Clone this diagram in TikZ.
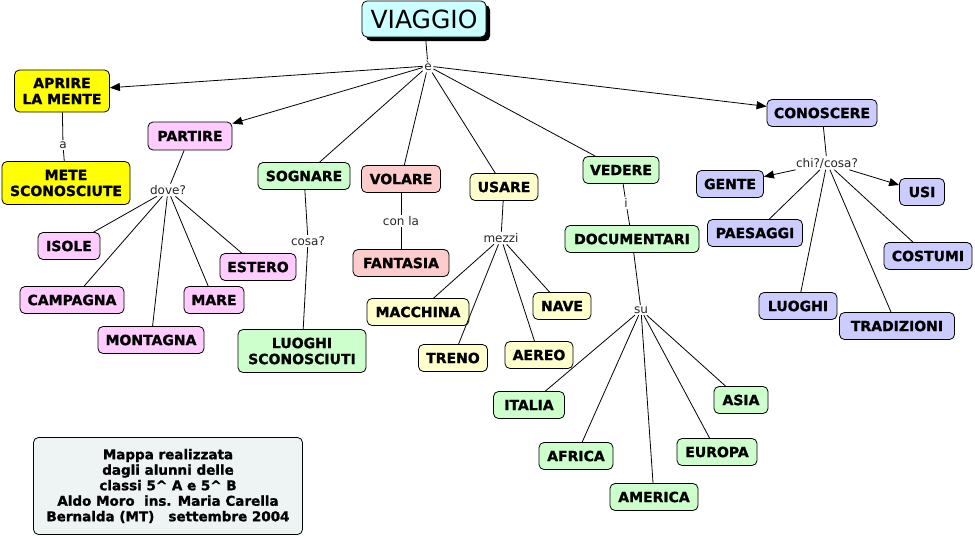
\documentclass[tikz,border=0pt]{standalone}
\usepackage{fontspec}
\setmainfont{DejaVu Sans}[BoldFeatures={FakeBold=1.2}]
\usetikzlibrary{arrows.meta,shadows}
\definecolor{cyanbox}{HTML}{CCFFFF}
\definecolor{yelbox}{HTML}{FFFF00}
\definecolor{pinkbox}{HTML}{FFCCFF}
\definecolor{greenbox}{HTML}{CCFFCC}
\definecolor{rosebox}{HTML}{FFCCCC}
\definecolor{creambox}{HTML}{FFFFCC}
\definecolor{lavbox}{HTML}{CCCCFF}
\definecolor{infobox}{HTML}{EEF4F4}
\tikzset{
  box/.style 2 args={draw=black, line width=0.8pt, rounded corners=5pt,
    font=\bfseries\fontsize{14}{16}\selectfont, align=center, inner sep=0pt,
    minimum width=#1pt, minimum height=#2pt},
  lbl/.style={font=\fontsize{12}{13}\selectfont, inner sep=1.5pt, text=black!85},
  link/.style={draw=black, line width=0.8pt},
  arr/.style={link, -{Triangle[length=10pt,width=8pt]}},
}
\begin{document}
\begin{tikzpicture}[x=1pt,y=-1pt]
\useasboundingbox (0,0) rectangle (975,538);
% main
\node[box={124}{36}, fill=cyanbox, font=\fontsize{25}{28}\selectfont,
  drop shadow={shadow xshift=4pt, shadow yshift=-4pt, fill=black, opacity=1}] (V) at (424,19) {VIAGGIO};
% labels
\node[lbl] (e) at (428,66) {è};
\node[lbl] (la) at (63,145) {a};
\node[lbl] (ldove) at (168,190) {dove?};
\node[lbl] (lcosa) at (308,241) {cosa?};
\node[lbl] (lcon) at (401,221) {con la};
\node[lbl] (lmezzi) at (501,238) {mezzi};
\node[lbl] (li) at (626,203) {i};
\node[lbl] (lsu) at (641,310) {su};
\node[lbl] (lchi) at (827,163) {chi?/cosa?};
% concepts
\node[box={95}{42}, fill=yelbox] (apr) at (62,91) {APRIRE\\LA MENTE};
\node[box={128}{43}, fill=yelbox] (mete) at (66,183) {METE\\SCONOSCIUTE};
\node[box={84}{28}, fill=pinkbox] (part) at (190,136) {PARTIRE};
\node[box={62}{27}, fill=pinkbox] (isole) at (69,246) {ISOLE};
\node[box={104}{27}, fill=pinkbox] (camp) at (72,300) {CAMPAGNA};
\node[box={106}{27}, fill=pinkbox] (mont) at (151,340) {MONTAGNA};
\node[box={60}{27}, fill=pinkbox] (mare) at (214,300) {MARE};
\node[box={76}{27}, fill=pinkbox] (est) at (258,267) {ESTERO};
\node[box={92}{27}, fill=greenbox] (sogn) at (304,176) {SOGNARE};
\node[box={128}{43}, fill=greenbox] (luog) at (302,351) {LUOGHI\\SCONOSCIUTI};
\node[box={79}{27}, fill=rosebox] (vol) at (401,179) {VOLARE};
\node[box={96}{27}, fill=rosebox] (fant) at (401,263) {FANTASIA};
\node[box={68}{27}, fill=creambox] (usa) at (504,187) {USARE};
\node[box={102}{27}, fill=creambox] (macc) at (418,312) {MACCHINA};
\node[box={69}{27}, fill=creambox] (treno) at (453,358) {TRENO};
\node[box={68}{27}, fill=creambox] (aereo) at (539,355) {AEREO};
\node[box={58}{27}, fill=creambox] (nave) at (562,306) {NAVE};
\node[box={76}{27}, fill=greenbox] (ved) at (621,170) {VEDERE};
\node[box={134}{27}, fill=greenbox] (doc) at (632,239) {DOCUMENTARI};
\node[box={71}{27}, fill=greenbox] (ita) at (529,405) {ITALIA};
\node[box={74}{27}, fill=greenbox] (afr) at (576,456) {AFRICA};
\node[box={88}{27}, fill=greenbox] (ame) at (654,497) {AMERICA};
\node[box={80}{27}, fill=greenbox] (eur) at (717,452) {EUROPA};
\node[box={54}{27}, fill=greenbox] (asia) at (741,400) {ASIA};
\node[box={110}{27}, fill=lavbox] (con) at (822,113) {CONOSCERE};
\node[box={67}{27}, fill=lavbox] (gente) at (730,184) {GENTE};
\node[box={45}{27}, fill=lavbox] (usi) at (922,192) {USI};
\node[box={95}{27}, fill=lavbox] (paes) at (755,233) {PAESAGGI};
\node[box={88}{27}, fill=lavbox] (cost) at (928,256) {COSTUMI};
\node[box={78}{27}, fill=lavbox] (luoghi) at (798,306) {LUOGHI};
\node[box={115}{27}, fill=lavbox] (trad) at (897,326) {TRADIZIONI};
\node[box={269}{97}, fill=infobox, font=\bfseries\fontsize{13.5}{15.5}\selectfont] (info) at (168,486)
  {Mappa realizzata\\dagli alunni delle\\classi 5\^{} A e 5\^{} B\\Aldo Moro\ \ ins. Maria Carella\\Bernalda (MT)\ \ \ settembre 2004};
% connectors
\draw[link] (V) -- (e);
\draw[arr] (e) -- (apr);
\draw[arr] (e) -- (part);
\draw[link] (e) -- (sogn);
\draw[link] (e) -- (vol);
\draw[link] (e) -- (usa);
\draw[link] (e) -- (ved);
\draw[arr] (e) -- (con);
\draw[link] (apr) -- (la);
\draw[link] (la) -- (mete);
\draw[link] (part) -- (ldove);
\draw[link] (ldove) -- (isole);
\draw[link] (ldove) -- (camp);
\draw[link] (ldove) -- (mont);
\draw[link] (ldove) -- (mare);
\draw[link] (ldove) -- (est);
\draw[link] (sogn) -- (lcosa);
\draw[link] (lcosa) -- (luog);
\draw[link] (vol) -- (lcon);
\draw[link] (lcon) -- (fant);
\draw[link] (usa) -- (lmezzi);
\draw[link] (lmezzi) -- (macc);
\draw[link] (lmezzi) -- (treno);
\draw[link] (lmezzi) -- (aereo);
\draw[link] (lmezzi) -- (nave);
\draw[link] (ved) -- (li);
\draw[link] (li) -- (doc);
\draw[link] (doc) -- (lsu);
\draw[link] (lsu) -- (ita);
\draw[link] (lsu) -- (afr);
\draw[link] (lsu) -- (ame);
\draw[link] (lsu) -- (eur);
\draw[link] (lsu) -- (asia);
\draw[link] (con) -- (lchi);
\draw[arr] (lchi) -- (gente);
\draw[arr] (lchi) -- (usi);
\draw[link] (lchi) -- (paes);
\draw[link] (lchi) -- (luoghi);
\draw[link] (lchi) -- (trad);
\draw[link] (lchi) -- (cost);
\end{tikzpicture}
\end{document}
